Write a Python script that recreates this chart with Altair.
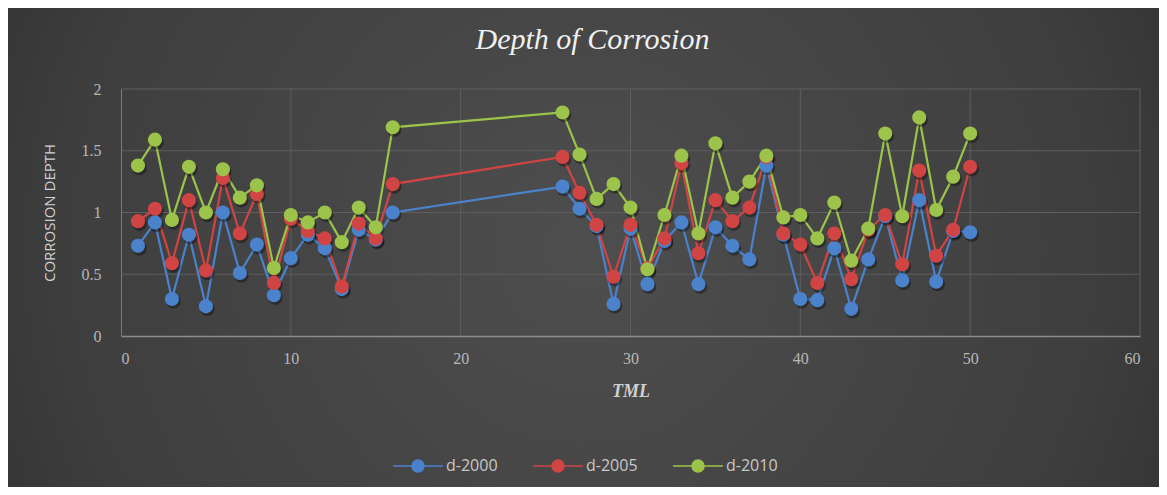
import altair as alt
import pandas as pd

tml = [1, 2, 3, 4, 5, 6, 7, 8, 9, 10, 11, 12, 13, 14, 15, 16,
       26, 27, 28, 29, 30, 31, 32, 33, 34, 35, 36, 37, 38, 39, 40,
       41, 42, 43, 44, 45, 46, 47, 48, 49, 50]

d2000 = [0.73, 0.92, 0.30, 0.82, 0.24, 1.00, 0.51, 0.74, 0.33, 0.63, 0.82, 0.71, 0.38, 0.86, 0.78, 1.00,
         1.21, 1.03, 0.89, 0.26, 0.87, 0.42, 0.77, 0.92, 0.42, 0.88, 0.73, 0.62, 1.38, 0.82, 0.30,
         0.29, 0.71, 0.22, 0.62, 0.97, 0.45, 1.10, 0.44, 0.85, 0.84]

d2005 = [0.93, 1.03, 0.59, 1.10, 0.53, 1.28, 0.83, 1.15, 0.43, 0.95, 0.85, 0.79, 0.40, 0.91, 0.79, 1.23,
         1.45, 1.16, 0.90, 0.48, 0.90, 0.55, 0.79, 1.40, 0.67, 1.10, 0.93, 1.04, 1.45, 0.83, 0.74,
         0.43, 0.83, 0.46, 0.86, 0.98, 0.58, 1.34, 0.65, 0.86, 1.37]

d2010 = [1.38, 1.59, 0.94, 1.37, 1.00, 1.35, 1.12, 1.22, 0.55, 0.98, 0.92, 1.00, 0.76, 1.04, 0.88, 1.69,
         1.81, 1.47, 1.11, 1.23, 1.04, 0.54, 0.98, 1.46, 0.83, 1.56, 1.12, 1.25, 1.46, 0.96, 0.98,
         0.79, 1.08, 0.61, 0.87, 1.64, 0.97, 1.77, 1.02, 1.29, 1.64]

series_names = ["d-2000", "d-2005", "d-2010"]
series_colors = ["#4a82cc", "#d04444", "#9cc44a"]

x_ticks = [0, 10, 20, 30, 40, 50, 60]
y_ticks = [0, 0.5, 1, 1.5, 2]

rows = []
for name, vals in zip(series_names, [d2000, d2005, d2010]):
    for t, v in zip(tml, vals):
        rows.append({"TML": t, "depth": v, "series": name})
df = pd.DataFrame(rows)

W, H = 1019, 247

x_scale = alt.Scale(domain=[0, 60], nice=False)
y_scale = alt.Scale(domain=[0, 2], nice=False)

color = alt.Color(
    "series:N",
    scale=alt.Scale(domain=series_names, range=series_colors),
    legend=alt.Legend(
        title=None,
        orient="none",
        direction="horizontal",
        legendX=271,
        legendY=351,
        symbolType="M -1 0 L -0.24 0 M 0.24 0 L 1 0 M 0.24 0 A 0.24 0.24 0 1 1 -0.24 0 A 0.24 0.24 0 1 1 0.24 0 Z",
        symbolSize=2500,
        symbolStrokeWidth=1.5,
        symbolOpacity=1,
        labelFont="Open Sans",
        labelFontSize=16,
        labelColor="#c8c8c8",
        labelOffset=2,
        columnPadding=32,
        zindex=2,
    ),
)

x_enc = alt.X(
    "TML:Q",
    scale=x_scale,
    axis=alt.Axis(
        values=x_ticks,
        title="TML",
        titleFont="Liberation Serif",
        titleFontStyle="italic",
        titleFontWeight="bold",
        titleFontSize=18,
        titleColor="#d0d0d0",
        titlePadding=16,
        labelFont="Liberation Serif",
        labelFontSize=16,
        labelColor="#b8b8b8",
        labelPadding=14,
        ticks=False,
        grid=False,
        domainColor="#8c8c8c",
        domainWidth=1.5,
        zindex=1,
    ),
)
y_enc = alt.Y(
    "depth:Q",
    scale=y_scale,
    axis=alt.Axis(
        values=y_ticks,
        format="~g",
        title="CORROSION DEPTH",
        titleFont="Open Sans",
        titleFontWeight="normal",
        titleFontSize=15,
        titleColor="#d0d0d0",
        titlePadding=24,
        labelFont="Liberation Serif",
        labelFontSize=16,
        labelColor="#b8b8b8",
        labelPadding=20,
        ticks=False,
        grid=False,
        domainColor="#7a7a7a",
        domainWidth=1,
        zindex=1,
    ),
)

bg = alt.Chart(pd.DataFrame({"a": [0]})).mark_rect(
    fill=alt.RadialGradient(
        gradient="radial",
        x1=0.5, y1=0.5, r1=0.0,
        x2=0.5, y2=0.5, r2=0.75,
        stops=[
            alt.GradientStop(offset=0, color="#4e4e4e"),
            alt.GradientStop(offset=0.6, color="#3e3e3e"),
            alt.GradientStop(offset=1, color="#242424"),
        ],
    ),
    clip=False,
).encode(
    x=alt.value(-113), x2=alt.value(W + 19),
    y=alt.value(-81), y2=alt.value(H + 151),
)

vgrid = alt.Chart(pd.DataFrame({"g": x_ticks[1:]})).mark_rule(color="#5e5e5e", strokeWidth=1).encode(
    x=alt.X("g:Q", scale=x_scale)
)
hgrid = alt.Chart(pd.DataFrame({"g": y_ticks[1:]})).mark_rule(color="#5e5e5e", strokeWidth=1).encode(
    y=alt.Y("g:Q", scale=y_scale)
)

base = alt.Chart(df)
shadow = base.mark_circle(size=210, opacity=0.35, color="#000000").encode(
    x=x_enc, y=y_enc, xOffset=alt.value(1.5), yOffset=alt.value(2.5),
    detail="series:N",
)
lines = base.mark_line(strokeWidth=2.2).encode(x=x_enc, y=y_enc, color=color)
points = base.mark_circle(size=200, opacity=1).encode(
    x=x_enc, y=y_enc,
    color=alt.Color("series:N", scale=alt.Scale(domain=series_names, range=series_colors), legend=None),
)

chart = alt.layer(bg, vgrid, hgrid, lines, shadow, points).properties(
    width=W,
    height=H,
    title=alt.Title(
        "Depth of Corrosion",
        font="Liberation Serif",
        fontSize=30,
        fontStyle="italic",
        fontWeight="normal",
        color="#f0f0f0",
        anchor="middle",
        frame="group",
        dx=-38,
        offset=-47,
        zindex=2,
    ),
    autosize=alt.AutoSizeParams(type="none"),
    padding={"left": 113, "top": 81, "right": 19, "bottom": 151},
    background="#333333",
).configure_view(stroke=None)

chart.save("out.html", embed_options={"renderer": "svg", "actions": False})
